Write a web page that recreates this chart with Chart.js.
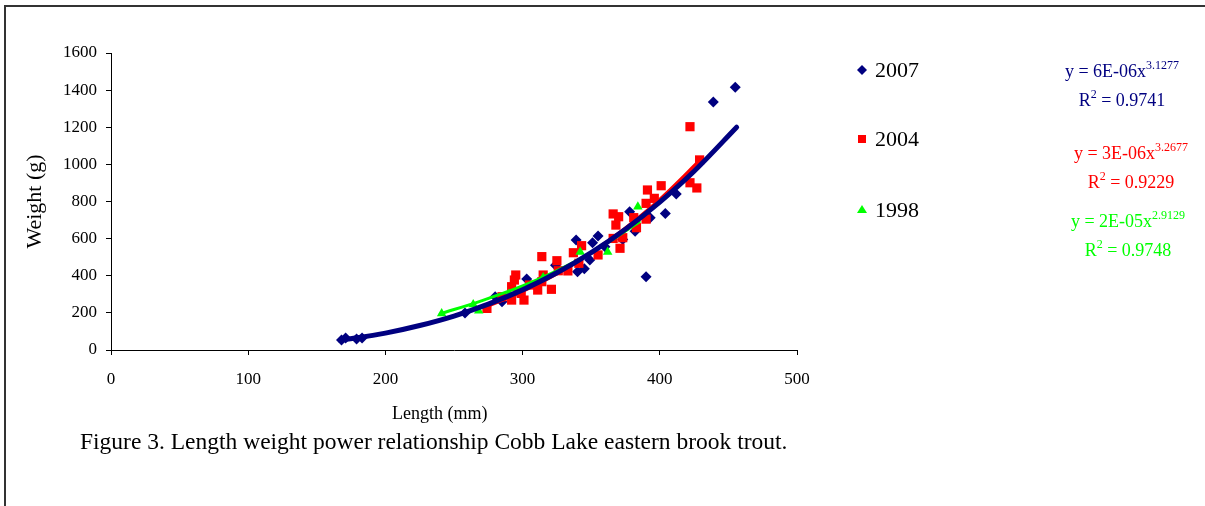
<!DOCTYPE html>
<html>
<head>
<meta charset="utf-8">
<script src="https://cdn.jsdelivr.net/npm/chart.js@4"></script>
<style>
  body { margin: 0; background: #fff; }
  #wrap { position: relative; width: 1205px; height: 506px; overflow: hidden;
          font-family: "Liberation Serif", "Times New Roman", serif; }
  #frame { position: absolute; left: 4px; top: 5px; right: -4px; bottom: -4px;
           border-top: 2px solid #333; border-left: 2px solid #333; }
  #chart { position: absolute; left: 0; top: 0; }
  .leg { position: absolute; left: 875px; font-size: 22px; line-height: 24px; color: #000; }
  .mk { position: absolute; }
  .eq { position: absolute; width: 160px; text-align: center; font-size: 18px; line-height: 27px; }
  .eq sup { font-size: 12px; vertical-align: 0; position: relative; top: -8px; }
  #xtitle { position: absolute; left: 392px; top: 402px; font-size: 18px; line-height: 22px; white-space: nowrap; }
  #caption { position: absolute; left: 80px; top: 428px; font-size: 23.5px; white-space: nowrap; }
</style>
</head>
<body>
<div id="wrap">
  <div id="frame"></div>
  <canvas id="chart" width="1205" height="506"></canvas>

  <svg class="mk" style="left:857px;top:65px" width="10" height="10"><polygon points="5,0 10,5 5,10 0,5" fill="#000080"/></svg>
  <div class="leg" style="top:58px">2007</div>
  <svg class="mk" style="left:857px;top:134px" width="10" height="10"><rect x="1" y="1" width="8" height="8" fill="#ff0000"/></svg>
  <div class="leg" style="top:127px">2004</div>
  <svg class="mk" style="left:857px;top:204px" width="10" height="10"><polygon points="5,1 10,9 0,9" fill="#00ff00"/></svg>
  <div class="leg" style="top:198px">1998</div>

  <div class="eq" style="left:1042px;top:58px;color:#000080">y = 6E-06x<sup>3.1277</sup><br>R<sup>2</sup> = 0.9741</div>
  <div class="eq" style="left:1051px;top:140px;color:#ff0000">y = 3E-06x<sup>3.2677</sup><br>R<sup>2</sup> = 0.9229</div>
  <div class="eq" style="left:1048px;top:208px;color:#00ff00">y = 2E-05x<sup>2.9129</sup><br>R<sup>2</sup> = 0.9748</div>

  <div id="xtitle">Length (mm)</div>
  <div id="caption">Figure 3. Length weight power relationship Cobb Lake eastern brook trout.</div>
</div>
<script>
"use strict";

// 2007 fish: length (mm) and weight (g)
const len2007 = [168, 171, 179, 183, 258, 280, 285, 303, 324, 339, 340, 345, 349, 351, 355, 360, 373, 378, 382, 390, 393, 404, 412, 439, 455];
const wt2007 = [54, 65, 59, 65, 199, 287, 260, 382, 456, 593, 422, 438, 485, 578, 614, 556, 595, 745, 640, 395, 712, 736, 840, 1336, 1415];

// 2004 fish
const len2004 = [274, 285, 292, 292, 294, 295, 297, 299, 301, 305, 311, 314, 314, 315, 321, 325, 326, 333, 337, 341, 343, 355, 366, 366, 368, 370, 371, 373, 381, 383, 390, 390, 391, 396, 401, 422, 422, 427, 429];
const wt2004 = [224, 287, 341, 269, 377, 404, 314, 305, 269, 350, 323, 368, 503, 404, 327, 481, 427, 426, 524, 467, 562, 512, 601, 733, 673, 718, 548, 605, 713, 659, 705, 790, 862, 817, 885, 1203, 901, 873, 1024];

// 1998 fish
const len1998 = [241, 264, 268, 290, 315, 342, 362, 384];
const wt1998 = [197, 245, 212, 300, 390, 528, 528, 772];

// power trendlines
const trendLen2007 = [167, 200, 225, 250, 275, 300, 325, 350, 375, 400, 425, 456];
const trendWt2007 = [52, 91, 132, 183, 247, 324, 416, 525, 651, 797, 963, 1200];
const trendLen2004 = [275, 300, 325, 350, 375, 400, 430];
const trendWt2004 = [238, 317, 411, 524, 657, 811, 1027];
const trendLen1998 = [240, 270, 300, 330, 360, 385];
const trendWt1998 = [195, 265, 345, 445, 570, 690];

const xTicks = [0, 100, 200, 300, 400, 500];
const yTicks = [0, 200, 400, 600, 800, 1000, 1200, 1400, 1600];

const NAVY = "#000080";
const RED = "#ff0000";
const GREEN = "#00ff00";
const FONT = "'Liberation Serif', 'Times New Roman', serif";

function toPoints(xs, ys) {
  return xs.map(function (x, i) {
    return { x: x, y: ys[i] };
  });
}

function trend(xs, ys, color, width, order) {
  return {
    type: "line",
    data: toPoints(xs, ys),
    borderColor: color,
    borderWidth: width,
    pointRadius: 0,
    showLine: true,
    fill: false,
    cubicInterpolationMode: "monotone",
    borderCapStyle: "round",
    order: order,
  };
}

let context = document.querySelector("#chart").getContext("2d");
new Chart(context, {
  type: "scatter",
  data: {
    datasets: [
      trend(trendLen2007, trendWt2007, NAVY, 5, 0),
      trend(trendLen1998, trendWt1998, GREEN, 3, 1),
      trend(trendLen2004, trendWt2004, RED, 3.5, 2),
      {
        label: "1998",
        data: toPoints(len1998, wt1998),
        pointStyle: "triangle",
        pointRadius: 5.5,
        backgroundColor: GREEN,
        borderColor: GREEN,
        borderWidth: 0,
        order: 3,
      },
      {
        label: "2004",
        data: toPoints(len2004, wt2004),
        pointStyle: "rect",
        pointRadius: 6.5,
        backgroundColor: RED,
        borderColor: RED,
        borderWidth: 0,
        order: 4,
      },
      {
        label: "2007",
        data: toPoints(len2007, wt2007),
        pointStyle: "rectRot",
        pointRadius: 5.5,
        backgroundColor: NAVY,
        borderColor: NAVY,
        borderWidth: 0,
        order: 5,
      },
    ],
  },
  options: {
    responsive: false,
    animation: false,
    layout: {
      padding: { left: 18, top: 53, right: 408, bottom: 76 },
    },
    plugins: {
      legend: { display: false },
      tooltip: { enabled: false },
    },
    scales: {
      x: {
        type: "linear",
        min: 0,
        max: 500,
        afterBuildTicks: function (scale) {
          scale.ticks = xTicks.map(function (v) { return { value: v }; });
        },
        afterFit: function (scale) {
          scale.height = 80;
        },
        grid: {
          drawOnChartArea: false,
          color: "#000",
          tickLength: 5,
        },
        border: { color: "#000", width: 1 },
        ticks: {
          color: "#000",
          padding: 14,
          font: { family: FONT, size: 17 },
          maxRotation: 0,
          callback: function (value) {
            return String(value);
          },
        },
      },
      y: {
        type: "linear",
        min: 0,
        max: 1600,
        afterBuildTicks: function (scale) {
          scale.ticks = yTicks.map(function (v) { return { value: v }; });
        },
        afterFit: function (scale) {
          scale.width = 93;
        },
        grid: {
          drawOnChartArea: false,
          color: "#000",
          tickLength: 5,
        },
        border: { color: "#000", width: 1 },
        ticks: {
          color: "#000",
          padding: 9,
          font: { family: FONT, size: 17 },
          callback: function (value) {
            return String(value);
          },
        },
        title: {
          display: true,
          text: "Weight (g)",
          color: "#000",
          font: { family: FONT, size: 22 },
          padding: { top: 4, bottom: 0 },
        },
      },
    },
  },
});
</script>
</body>
</html>
